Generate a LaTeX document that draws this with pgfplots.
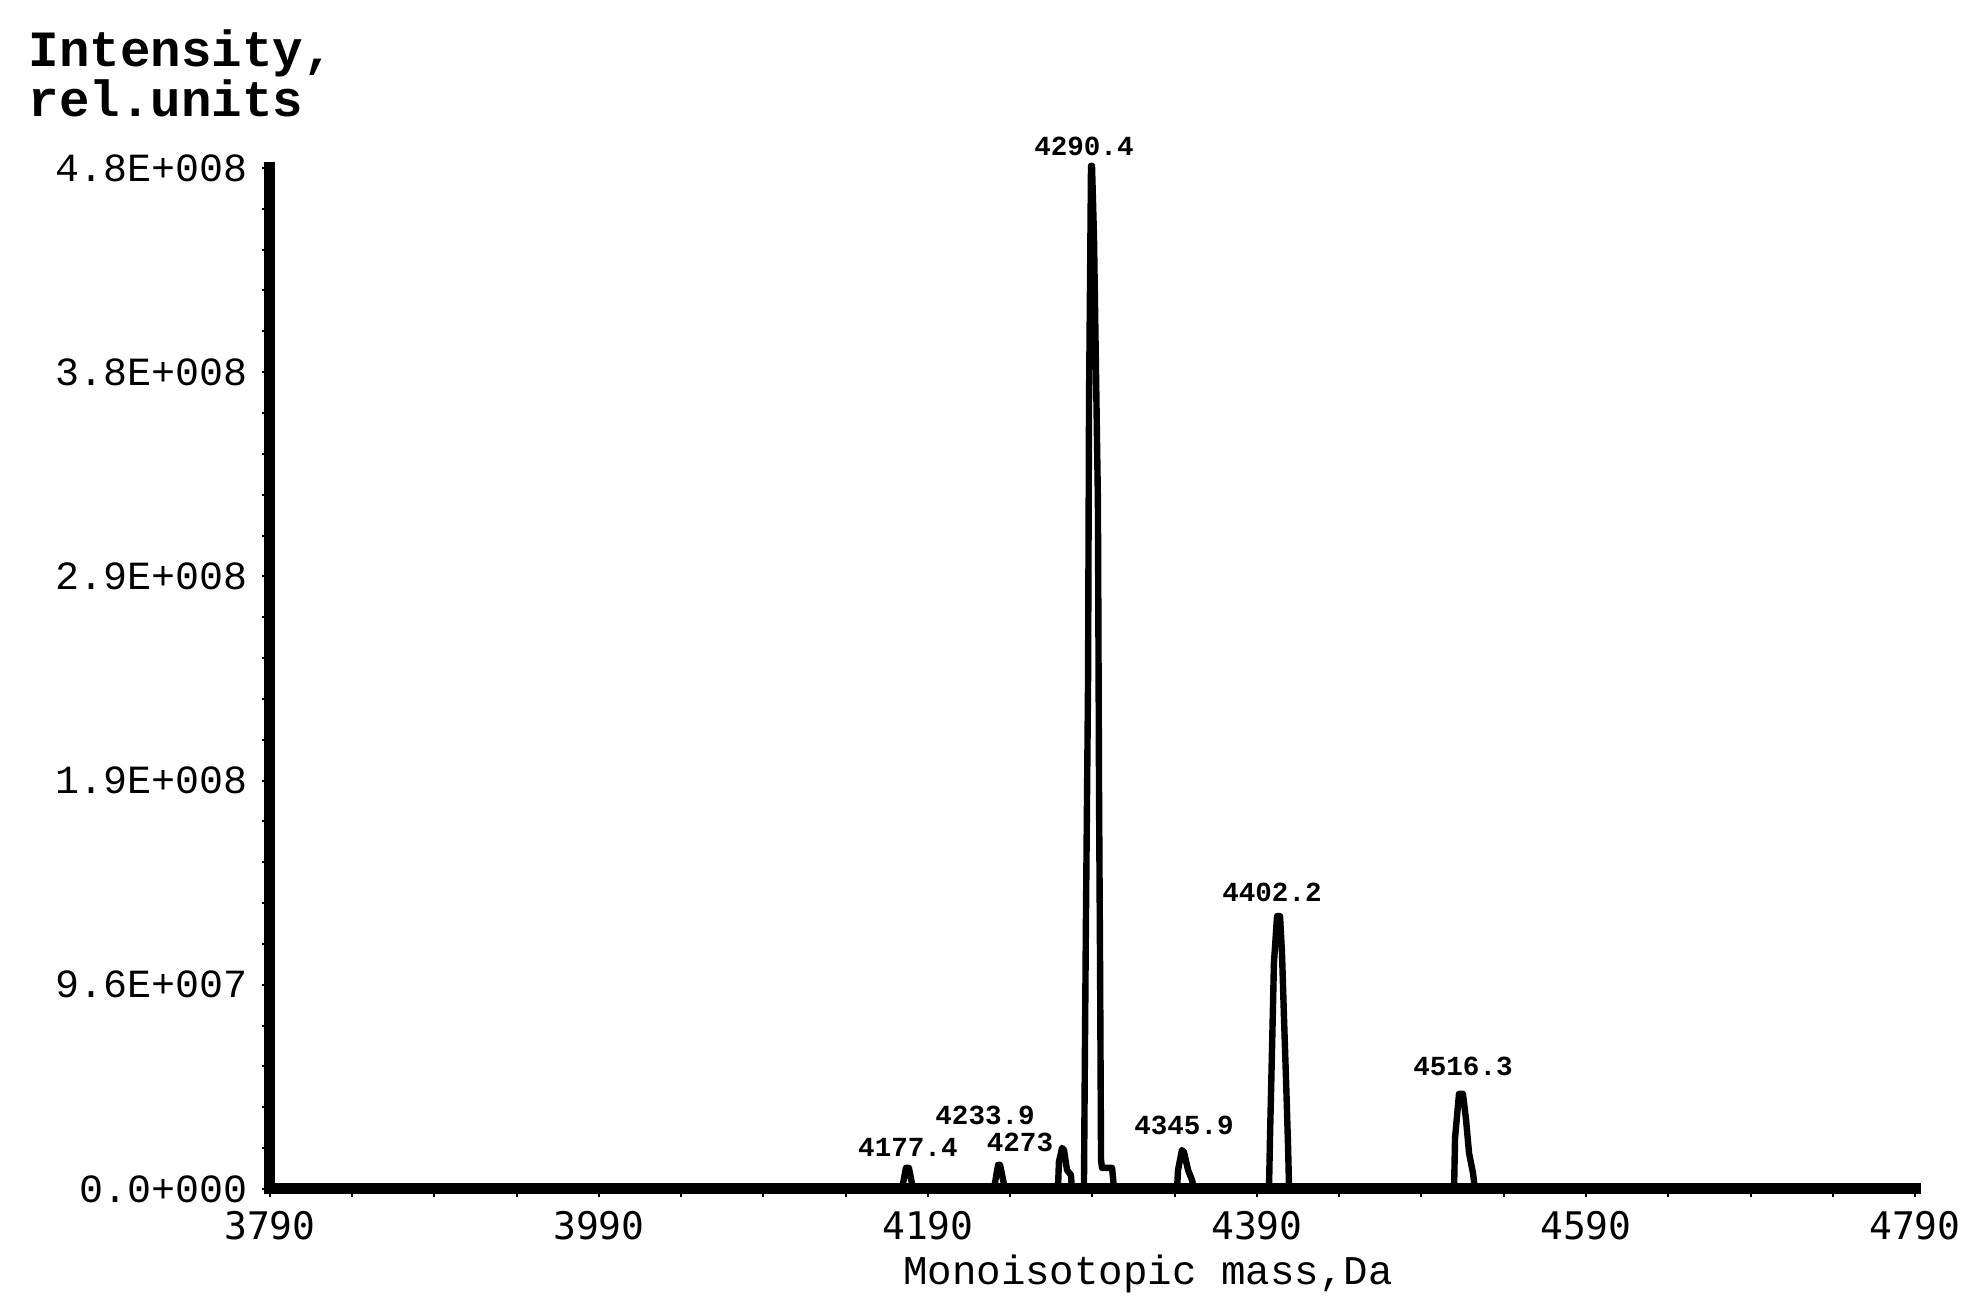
\documentclass[border=0pt]{standalone}
\usepackage{fontspec}
\setmainfont{Liberation Mono}
\newfontfamily\sansmono{DejaVu Sans Mono}
\usepackage{pgfplots}
\pgfplotsset{compat=1.18}

\begin{document}
\begin{tikzpicture}
\begin{axis}[
    scale only axis,
    width=411.25pt, height=255.25pt,
    xmin=3790, xmax=4790,
    ymin=0, ymax=4.8e8,
    clip=false,
    axis lines*=left,
    axis line style={line width=2.75pt, line cap=rect},
    xtick={3790,3990,4190,4390,4590,4790},
    xticklabels={3790,3990,4190,4390,4590,4790},
    minor x tick num=3,
    ytick={0,0.96e8,1.92e8,2.88e8,3.84e8,4.8e8},
    yticklabels={0.0+000,9.6E+007,1.9E+008,2.9E+008,3.8E+008,4.8E+008},
    minor y tick num=4,
    scaled y ticks=false,
    tick align=outside,
    major tick length=2pt, minor tick length=2pt,
    every tick/.style={black, line width=0.5pt},
    xticklabel style={font=\sansmono\fontsize{9.5}{10}\selectfont},
    yticklabel style={font=\fontsize{10}{11}\selectfont},
]
% spectrum, peaks
\addplot[black, line width=1.6pt, line join=round] coordinates {
    (3790,0)
    (4174.2,0) (4176.6,0.099e8) (4178.4,0.099e8) (4180.9,0)
    (4230.1,0) (4232.6,0.113e8) (4233.8,0.113e8) (4236.8,0)
    (4269.0,0) (4269.6,0.127e8) (4271.5,0.193e8) (4272.7,0.183e8) (4274.5,0.089e8) (4276.9,0.066e8) (4277.5,0)
    (4284.8,0) (4285.4,0.653e8) (4286.0,1.25e8) (4287.3,2.39e8) (4287.9,3.71e8) (4289.1,4.81e8) (4289.7,4.81e8)
    (4290.9,4.48e8) (4292.1,3.86e8) (4293.3,3.23e8) (4294.0,1.83e8) (4294.6,1.06e8) (4295.2,0.136e8)
    (4295.8,0.099e8) (4301.9,0.099e8) (4303.1,0)
    (4341.4,0) (4342.0,0.089e8) (4344.4,0.183e8) (4345.6,0.174e8) (4348.1,0.089e8) (4350.5,0.042e8) (4351.7,0)
    (4397.3,0) (4397.9,0.240e8) (4399.1,0.644e8) (4400.3,1.062e8) (4402.2,1.283e8) (4404.0,1.283e8)
    (4405.2,1.109e8) (4406.4,0.809e8) (4407.7,0.503e8) (4408.9,0.197e8) (4409.5,0)
    (4509.8,0) (4510.4,0.240e8) (4512.8,0.447e8) (4515.2,0.447e8) (4517.1,0.324e8) (4518.9,0.169e8) (4521.3,0.075e8) (4522.5,0)
    (4790,0)
};

% peak labels
\begin{scope}[every node/.style={font=\bfseries\fontsize{6.9}{8}\selectfont, inner sep=0pt}]
\node at (axis cs:4284.8,4.903e8) {4290.4};
\node at (axis cs:4399.1,1.392e8) {4402.2};
\node at (axis cs:4515.2,0.574e8) {4516.3};
\node at (axis cs:4177.8,0.197e8) {4177.4};
\node at (axis cs:4224.7,0.348e8) {4233.9};
\node at (axis cs:4245.9,0.221e8) {4273};
\node at (axis cs:4345.6,0.301e8) {4345.9};
\end{scope}

% axis titles
\node[anchor=base west, inner sep=0pt, font=\bfseries\fontsize{12.7}{14}\selectfont] at (axis cs:3642.9,5.275e8) {Intensity,};
\node[anchor=base west, inner sep=0pt, font=\bfseries\fontsize{12.7}{14}\selectfont] at (axis cs:3642.9,5.044e8) {rel.units};
\node[anchor=base, inner sep=0pt, font=\fontsize{10.2}{12}\selectfont] at (axis cs:4323.7,-0.447e8) {Monoisotopic mass,Da};

\coordinate (O) at (rel axis cs:0,0);
\end{axis}
\pgfresetboundingbox
\path[use as bounding box] (O) ++(-67.5pt,-30.75pt) rectangle ++(496pt,328pt);
\end{tikzpicture}
\end{document}
